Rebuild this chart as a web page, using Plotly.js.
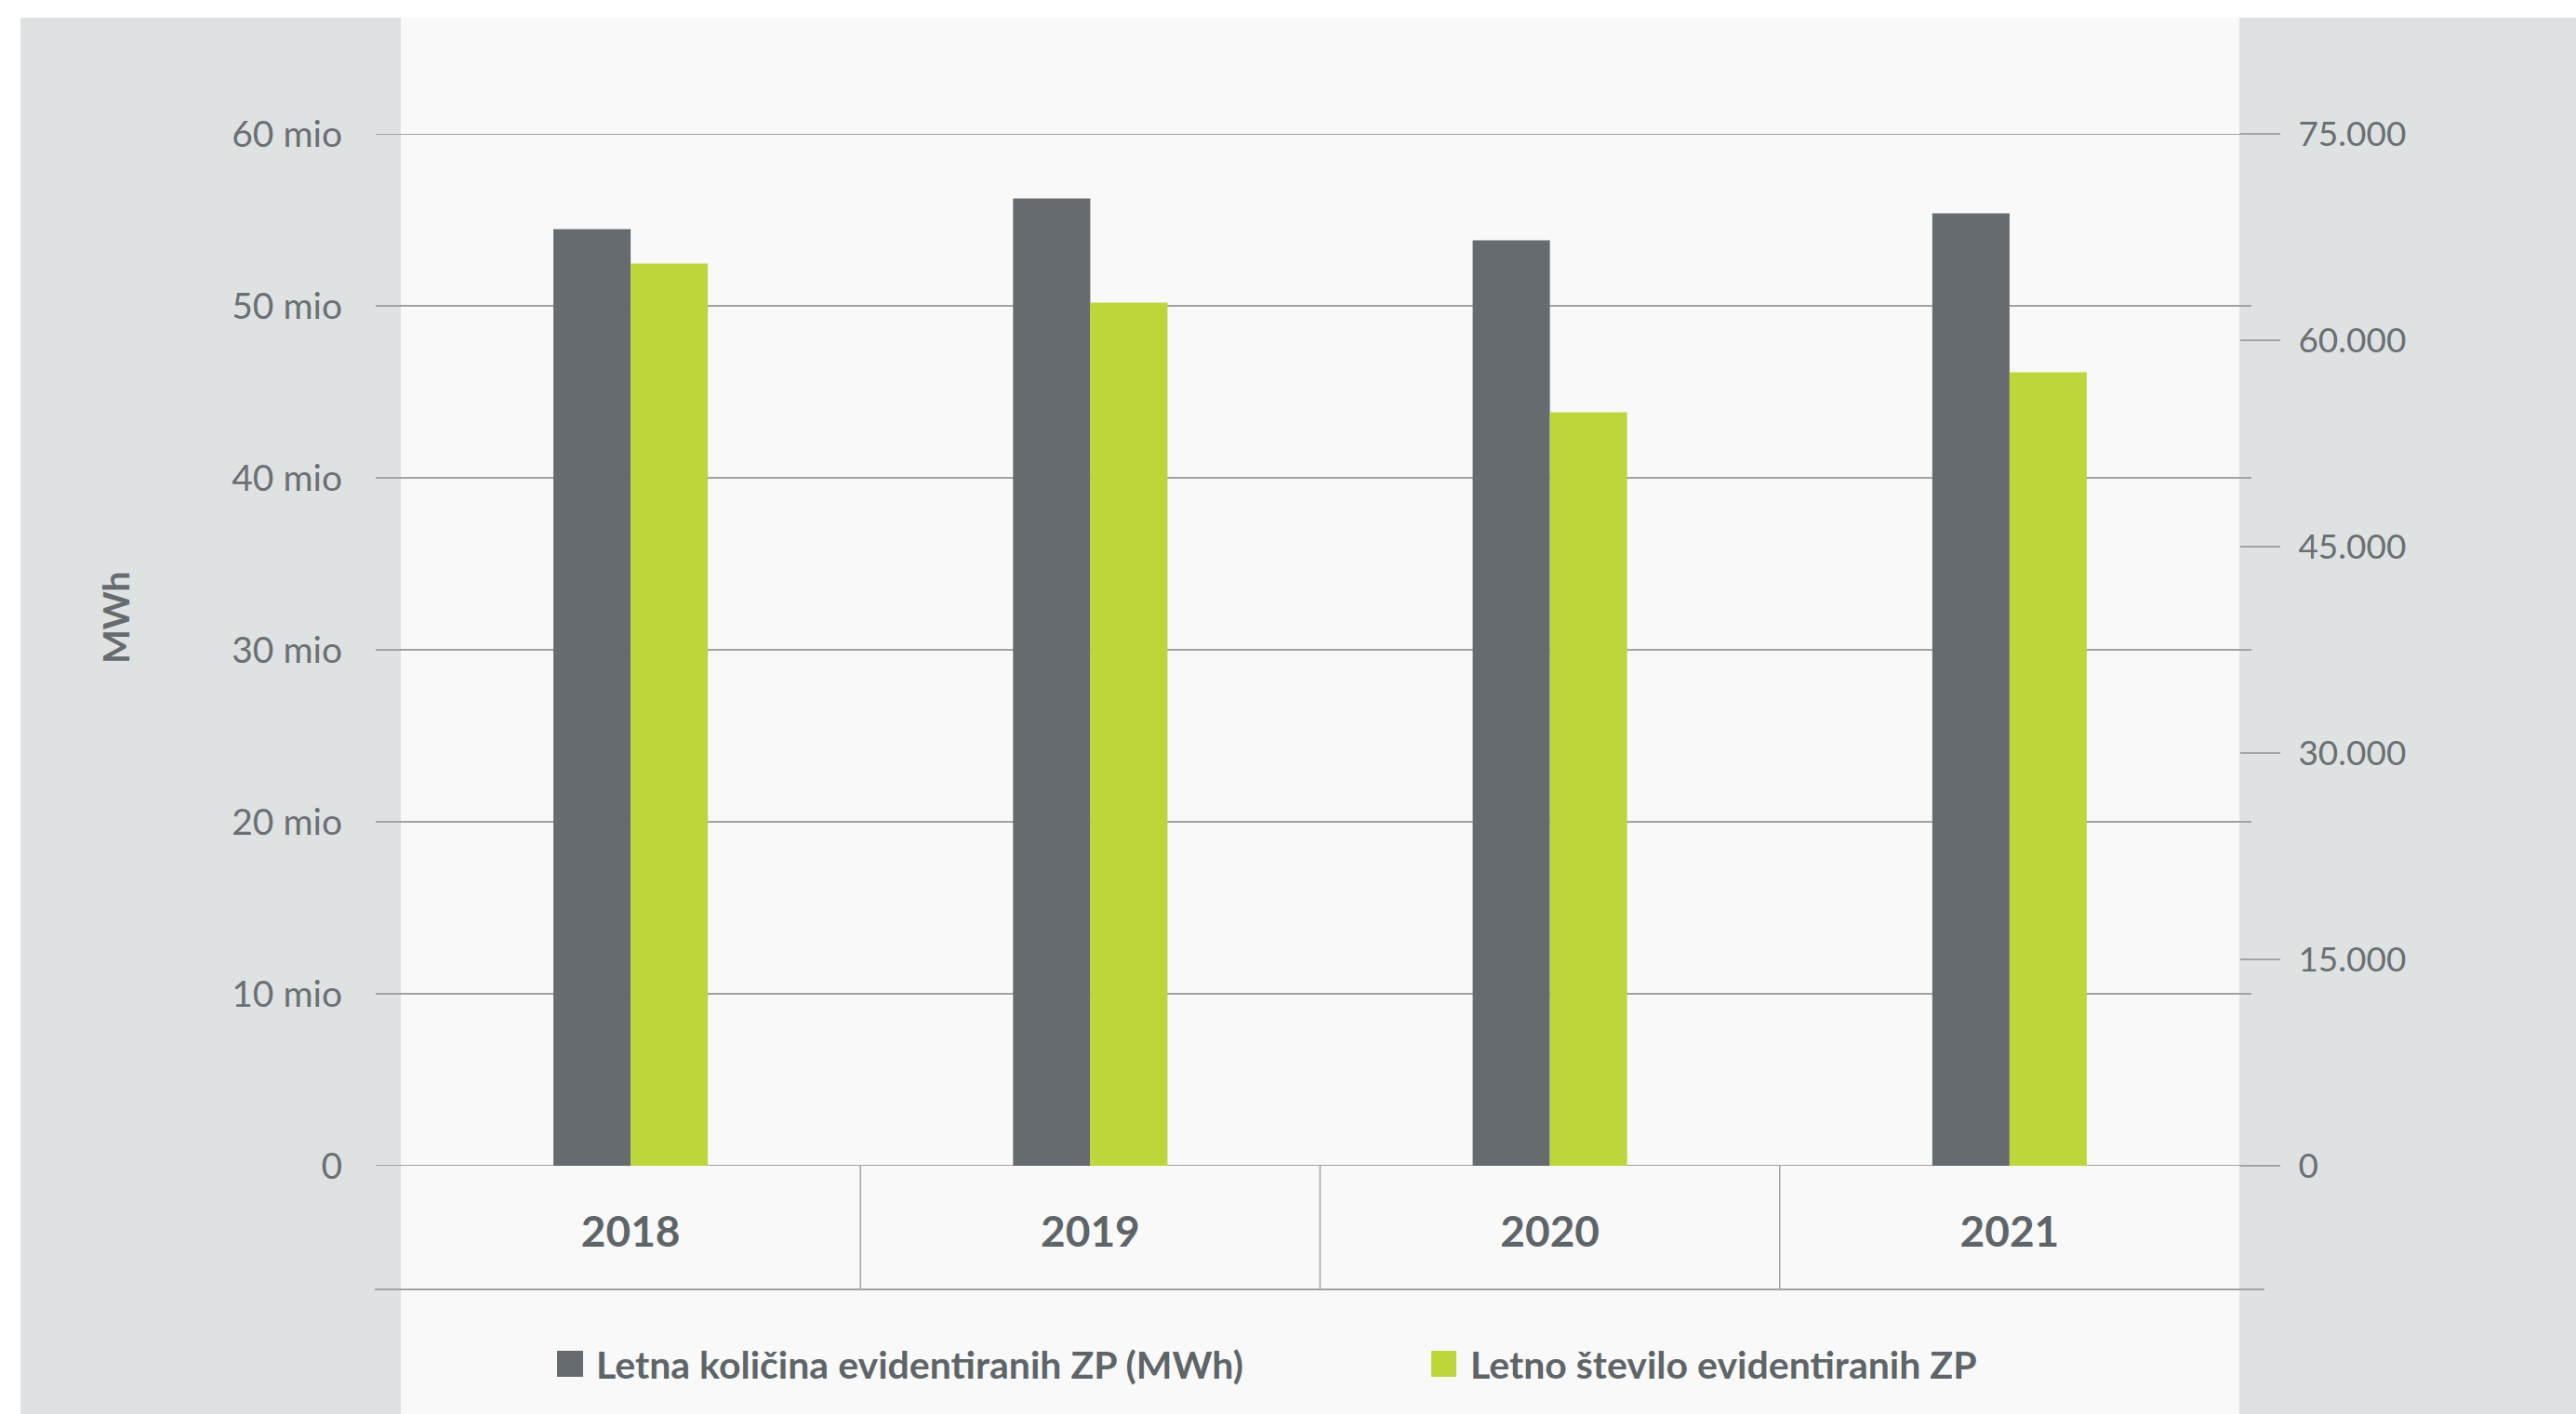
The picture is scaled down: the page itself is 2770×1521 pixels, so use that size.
<!DOCTYPE html>
<html>
<head>
<meta charset="utf-8">
<script src="https://cdn.plot.ly/plotly-3.0.1.min.js"></script>
<style>
  html, body { margin: 0; padding: 0; background: #ffffff; }
  #chart { width: 2770px; height: 1521px; }
</style>
</head>
<body>
<div id="chart"></div>
<script>
// ---- data ----
const years = ['2018', '2019', '2020', '2021'];
const energyMWh = [54460000, 56240000, 53810000, 55380000];
const countZP = [65570, 62740, 54760, 57670];
const seriesNames = ['Letna količina evidentiranih ZP (MWh)', 'Letno število evidentiranih ZP'];
const leftTickVals = [0, 10000000, 20000000, 30000000, 40000000, 50000000, 60000000];
const leftTickText = ['0', '10 mio', '20 mio', '30 mio', '40 mio', '50 mio', '60 mio'];
const rightTickVals = [0, 15000, 30000, 45000, 60000, 75000];
const rightTickText = ['0', '15.000', '30.000', '45.000', '60.000', '75.000'];
const yTitle = 'MWh';

// ---- style ----
const W = 2770, H = 1521;
const L = 431, R = 362, T = 144, B = 267;
const PW = W - L - R, PH = H - T - B;
const px = v => (v - L) / PW;          // pixel x -> paper x
const py = v => (H - B - v) / PH;      // pixel y -> paper y
const FONT = 'Lato, "Open Sans", sans-serif';
const GRAY = '#656b6e', GREEN = '#bed63a';
const TEXT = '#6a7074', GRID = '#a2a4a4';
const PANEL = '#dfe2e3', CENTER = '#f8f9f8';

const traces = [
  { type: 'bar', x: years, y: energyMWh, name: seriesNames[0], yaxis: 'y',
    offsetgroup: '1', marker: { color: GRAY }, hoverinfo: 'x+y' },
  { type: 'bar', x: years, y: countZP, name: seriesNames[1], yaxis: 'y2',
    offsetgroup: '2', marker: { color: GREEN }, hoverinfo: 'x+y' }
];

const shapes = [
  // background panels
  { type: 'rect', xref: 'paper', yref: 'paper', x0: px(22), x1: 0, y0: py(H), y1: py(19), fillcolor: PANEL, line: { width: 0 }, layer: 'below' },
  { type: 'rect', xref: 'paper', yref: 'paper', x0: 0, x1: 1, y0: py(H), y1: py(19), fillcolor: CENTER, line: { width: 0 }, layer: 'below' },
  { type: 'rect', xref: 'paper', yref: 'paper', x0: 1, x1: px(W), y0: py(H), y1: py(19), fillcolor: PANEL, line: { width: 0 }, layer: 'below' },
  // bottom line of category table
  { type: 'line', xref: 'paper', yref: 'paper', x0: px(403), x1: px(2435), y0: py(1387), y1: py(1387), line: { color: GRID, width: 2 }, layer: 'below' }
];
// gridlines from left tick values
leftTickVals.forEach(v => shapes.push({
  type: 'line', xref: 'paper', yref: 'y', x0: px(404), x1: px(2421), y0: v, y1: v,
  line: { color: GRID, width: 2 }, layer: 'below'
}));
// category dividers
for (let i = 0; i < years.length - 1; i++) {
  shapes.push({ type: 'line', xref: 'x', yref: 'paper', x0: i + 0.5, x1: i + 0.5, y0: 0, y1: py(1387),
    line: { color: GRID, width: 1.5 }, layer: 'below' });
}
// legend swatches
shapes.push({ type: 'rect', xref: 'paper', yref: 'paper', x0: px(599), x1: px(627), y0: py(1481), y1: py(1453), fillcolor: GRAY, line: { width: 0 } });
shapes.push({ type: 'rect', xref: 'paper', yref: 'paper', x0: px(1539), x1: px(1566), y0: py(1481), y1: py(1453), fillcolor: GREEN, line: { width: 0 } });

const annotations = [
  { xref: 'paper', yref: 'paper', x: px(639), y: py(1467), xanchor: 'left', yanchor: 'middle', showarrow: false,
    text: '<b>' + seriesNames[0] + '</b>', font: { family: FONT, size: 41, color: '#5e6569' } },
  { xref: 'paper', yref: 'paper', x: px(1579), y: py(1467), xanchor: 'left', yanchor: 'middle', showarrow: false,
    text: '<b>' + seriesNames[1] + '</b>', font: { family: FONT, size: 41, color: '#5e6569' } },
  { xref: 'paper', yref: 'paper', x: px(124), y: py(664), xanchor: 'center', yanchor: 'middle', showarrow: false,
    textangle: -90, text: '<b>' + yTitle + '</b>', font: { family: FONT, size: 39, color: GRAY } }
];

const layout = {
  width: W, height: H,
  margin: { l: L, r: R, t: T, b: B, pad: 0 },
  paper_bgcolor: '#ffffff',
  plot_bgcolor: 'rgba(0,0,0,0)',
  showlegend: false,
  barmode: 'group', bargap: 0.664, bargroupgap: 0,
  font: { family: FONT, color: TEXT },
  xaxis: {
    type: 'category', categoryorder: 'array', categoryarray: years,
    showgrid: false, zeroline: false, showline: false, ticks: '',
    ticklabelstandoff: 40,
    tickfont: { family: FONT, size: 46, color: '#5e6569', weight: 700 }
  },
  yaxis: {
    range: [0, 60000000], tickmode: 'array', tickvals: leftTickVals, ticktext: leftTickText,
    showgrid: false, zeroline: false, showline: false, ticks: '',
    ticklabelstandoff: 62,
    tickfont: { family: FONT, size: 39, color: TEXT }
  },
  yaxis2: {
    overlaying: 'y', side: 'right',
    range: [0, 75000], tickmode: 'array', tickvals: rightTickVals, ticktext: rightTickText,
    showgrid: false, zeroline: false, showline: false,
    ticks: 'outside', ticklen: 43, tickwidth: 2, tickcolor: GRID,
    ticklabelstandoff: 12,
    tickfont: { family: FONT, size: 37, color: TEXT }
  },
  shapes: shapes,
  annotations: annotations
};

Plotly.newPlot('chart', traces, layout, { displayModeBar: false, staticPlot: true });
</script>
</body>
</html>
